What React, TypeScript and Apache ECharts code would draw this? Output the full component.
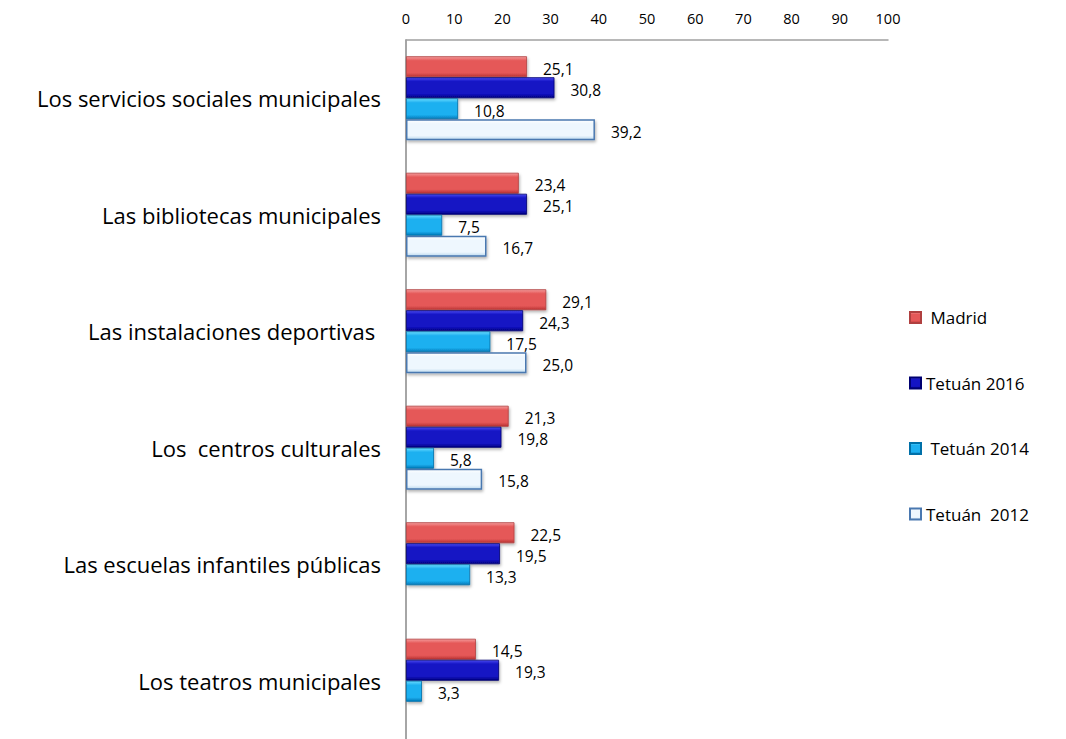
import React, { useEffect, useRef } from "react";
import * as echarts from "echarts";

const categories = [
  "Los servicios sociales municipales",
  "Las bibliotecas municipales",
  "Las instalaciones deportivas ",
  "Los  centros culturales",
  "Las escuelas infantiles públicas",
  "Los teatros municipales",
];
const seriesNames = [" Madrid", "Tetuán 2016", " Tetuán 2014", "Tetuán  2012"];
const madrid = [25.1, 23.4, 29.1, 21.3, 22.5, 14.5];
const tetuan2016 = [30.8, 25.1, 24.3, 19.8, 19.5, 19.3];
const tetuan2014 = [10.8, 7.5, 17.5, 5.8, 13.3, 3.3];
const tetuan2012 = [39.2, 16.7, 25.0, 15.8, null, null];
const xTicks = { min: 0, max: 100, interval: 10 };

const FONT = "'Open Sans', 'Noto Sans', sans-serif";

function grad(top: string, mid: string, bottom: string) {
  return new echarts.graphic.LinearGradient(0, 0, 0, 1, [
    { offset: 0, color: top },
    { offset: 0.2, color: mid },
    { offset: 0.8, color: mid },
    { offset: 1, color: bottom },
  ]);
}

const styles = [
  { color: grad("#F49A9A", "#E55858", "#B83232"), borderColor: "#B04040" },
  { color: grad("#4A4AF0", "#1414C4", "#000080"), borderColor: "#000070" },
  { color: grad("#6ADCFF", "#1EB0F0", "#0078B8"), borderColor: "#0070A8" },
  { color: grad("#FFFFFF", "#EEF7FE", "#BCD9EE"), borderColor: "#4A78B0" },
];

export default function App() {
  const ref = useRef<HTMLDivElement>(null);
  useEffect(() => {
    document.body.style.margin = "0";
    const chart = echarts.init(ref.current!, null, { renderer: "svg" });
    const data = [madrid, tetuan2016, tetuan2014, tetuan2012];
    chart.setOption({
      animation: false,
      textStyle: { fontFamily: FONT },
      legend: {
        orient: "vertical",
        left: 904,
        top: 304,
        itemWidth: 11,
        itemHeight: 11,
        itemGap: 48.5,
        icon: "rect",
        textStyle: { fontSize: 17, color: "#000", fontFamily: FONT },
        data: seriesNames,
      },
      grid: { left: 406, top: 40, width: 482, height: 702, containLabel: false },
      xAxis: {
        type: "value",
        position: "top",
        min: xTicks.min,
        max: xTicks.max,
        interval: xTicks.interval,
        axisLine: { show: true, lineStyle: { color: "#A0A0A0", width: 1.5 } },
        axisTick: { show: false },
        splitLine: { show: false },
        axisLabel: { fontSize: 14.5, color: "#000", margin: 14, fontFamily: FONT },
      },
      yAxis: {
        type: "category",
        inverse: true,
        data: categories,
        axisLine: { show: true, lineStyle: { color: "#888", width: 1.5 } },
        axisTick: { show: false },
        axisLabel: { fontSize: 22, color: "#000", margin: 25, fontFamily: FONT },
      },
      series: seriesNames.map((name, i) => ({
        name,
        type: "bar",
        data: data[i],
        barWidth: 21,
        barGap: "0%",
        itemStyle: {
          color: styles[i].color,
          borderColor: styles[i].borderColor,
          borderWidth: i === 3 ? 1.5 : 0.8,
          shadowColor: "rgba(0,0,0,0.3)",
          shadowBlur: 3,
          shadowOffsetY: 2,
          shadowOffsetX: 1,
        },
        label: {
          show: true,
          position: "right",
          distance: 16,
          offset: [0, 2],
          fontSize: 15.5,
          color: "#000",
          fontFamily: FONT,
          formatter: (p: any) =>
            p.value == null ? "" : Number(p.value).toFixed(1).replace(".", ","),
        },
      })),
    });
    return () => chart.dispose();
  }, []);
  return <div ref={ref} style={{ width: 1066, height: 739 }} />;
}
